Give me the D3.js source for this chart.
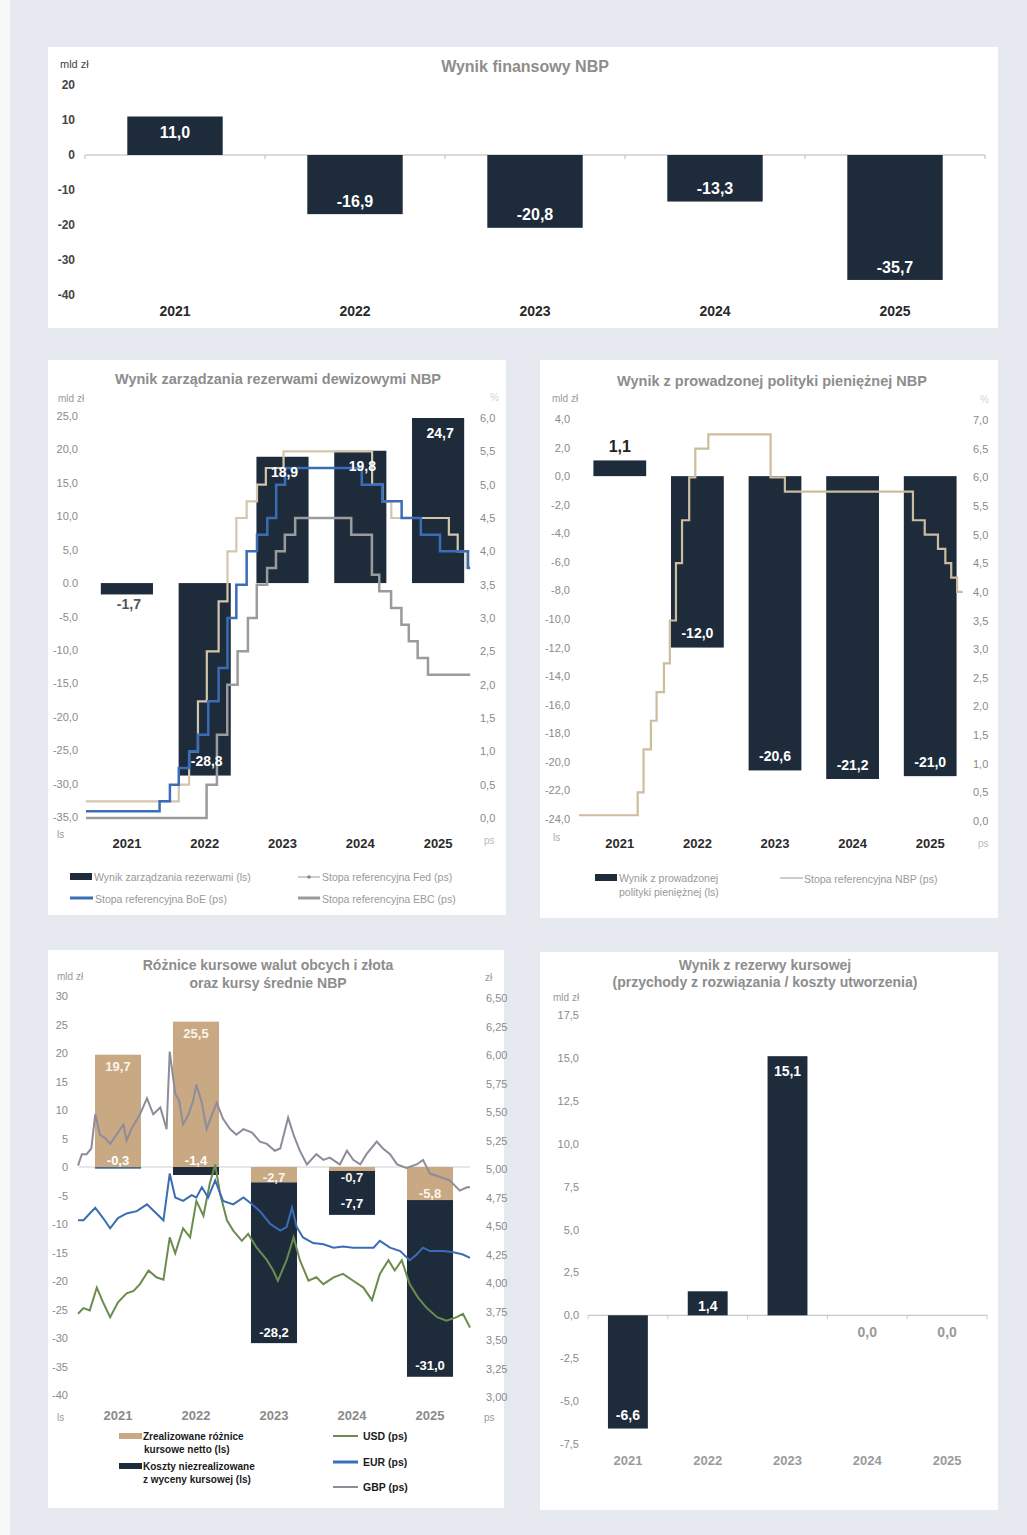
<!DOCTYPE html>
<html><head><meta charset="utf-8">
<script src="https://cdn.jsdelivr.net/npm/d3@7"></script>
<style>body{margin:0;background:#e6e9f0;} svg{display:block;font-family:"Liberation Sans",Arial,sans-serif;}</style>
</head><body><svg id="c" width="1027" height="1535"></svg>
<script>
// ---------------- DATA ----------------
const years = ["2021","2022","2023","2024","2025"];

// Panel 1
const wynikFinansowy = [11.0, -16.9, -20.8, -13.3, -35.7];
const p1Ticks = [20, 10, 0, -10, -20, -30, -40];

// Panel 2
const wynikRezerwy = [-1.7, -28.8, 18.9, 19.8, 24.7];
const p2LeftTicks = [25, 20, 15, 10, 5, 0, -5, -10, -15, -20, -25, -30, -35];
const p2RightTicks = [6.0, 5.5, 5.0, 4.5, 4.0, 3.5, 3.0, 2.5, 2.0, 1.5, 1.0, 0.5, 0.0];
const fedRate = [["2021-01-01",0.25],["2022-03-17",0.50],["2022-05-05",1.00],["2022-06-16",1.75],["2022-07-28",2.50],["2022-09-22",3.25],["2022-11-03",4.00],["2022-12-15",4.50],["2023-02-02",4.75],["2023-03-23",5.00],["2023-05-04",5.25],["2023-07-27",5.50],["2024-09-19",5.00],["2024-11-08",4.75],["2024-12-19",4.50],["2025-09-18",4.25],["2025-10-30",4.00],["2025-12-11",3.75]];
const boeRate = [["2021-01-01",0.10],["2021-12-16",0.25],["2022-02-03",0.50],["2022-03-17",0.75],["2022-05-05",1.00],["2022-06-16",1.25],["2022-08-04",1.75],["2022-09-22",2.25],["2022-11-03",3.00],["2022-12-15",3.50],["2023-02-02",4.00],["2023-03-23",4.25],["2023-05-11",4.50],["2023-06-22",5.00],["2023-08-03",5.25],["2024-08-01",5.00],["2024-11-07",4.75],["2025-02-06",4.50],["2025-05-08",4.25],["2025-08-07",4.00],["2025-12-18",3.75]];
const ebcRate = [["2021-01-01",0.00],["2022-07-27",0.50],["2022-09-14",1.25],["2022-11-02",2.00],["2022-12-21",2.50],["2023-02-08",3.00],["2023-03-22",3.50],["2023-05-10",3.75],["2023-06-21",4.00],["2023-08-02",4.25],["2023-09-20",4.50],["2024-06-12",4.25],["2024-09-18",3.65],["2024-10-23",3.40],["2024-12-18",3.15],["2025-02-05",2.90],["2025-03-12",2.65],["2025-04-23",2.40],["2025-06-11",2.15]];

// Panel 3
const wynikPolityki = [1.1, -12.0, -20.6, -21.2, -21.0];
const p3LeftTicks = [4, 2, 0, -2, -4, -6, -8, -10, -12, -14, -16, -18, -20, -22, -24];
const p3RightTicks = [7.0, 6.5, 6.0, 5.5, 5.0, 4.5, 4.0, 3.5, 3.0, 2.5, 2.0, 1.5, 1.0, 0.5, 0.0];
const nbpRate = [["2021-01-01",0.10],["2021-10-07",0.50],["2021-11-04",1.25],["2021-12-09",1.75],["2022-01-05",2.25],["2022-02-09",2.75],["2022-03-09",3.50],["2022-04-07",4.50],["2022-05-06",5.25],["2022-06-09",6.00],["2022-07-08",6.50],["2022-09-08",6.75],["2023-07-01",6.00],["2023-09-07",5.75],["2025-05-08",5.25],["2025-07-03",5.00],["2025-09-04",4.75],["2025-10-09",4.50],["2025-11-06",4.25],["2025-12-04",4.00]];

// Panel 4
const roznicZrealizowane = [19.7, 25.5, -2.7, -0.7, -5.8];
const kosztyNiezrealizowane = [-0.3, -1.4, -28.2, -7.7, -31.0];
const p4LeftTicks = [30, 25, 20, 15, 10, 5, 0, -5, -10, -15, -20, -25, -30, -35, -40];
const p4RightTicks = [6.50, 6.25, 6.00, 5.75, 5.50, 5.25, 5.00, 4.75, 4.50, 4.25, 4.00, 3.75, 3.50, 3.25, 3.00];
const gbpPln = [[2021.00,5.03],[2021.05,5.13],[2021.11,5.13],[2021.17,5.18],[2021.22,5.48],[2021.28,5.30],[2021.35,5.27],[2021.41,5.22],[2021.49,5.30],[2021.58,5.39],[2021.62,5.25],[2021.68,5.35],[2021.79,5.48],[2021.88,5.62],[2021.96,5.48],[2022.05,5.54],[2022.13,5.35],[2022.17,6.03],[2022.24,5.66],[2022.29,5.60],[2022.34,5.39],[2022.41,5.48],[2022.47,5.60],[2022.51,5.74],[2022.58,5.58],[2022.64,5.35],[2022.71,5.48],[2022.77,5.58],[2022.85,5.44],[2022.94,5.35],[2023.02,5.30],[2023.11,5.35],[2023.22,5.32],[2023.32,5.24],[2023.41,5.22],[2023.51,5.16],[2023.58,5.18],[2023.68,5.45],[2023.75,5.30],[2023.83,5.16],[2023.92,5.04],[2024.04,5.13],[2024.13,5.08],[2024.21,5.10],[2024.34,5.04],[2024.43,5.16],[2024.51,5.08],[2024.60,5.04],[2024.68,5.13],[2024.81,5.24],[2024.89,5.18],[2024.98,5.13],[2025.07,5.04],[2025.19,5.01],[2025.32,5.04],[2025.40,5.08],[2025.49,4.96],[2025.62,4.93],[2025.74,4.90],[2025.87,4.81],[2025.96,4.84],[2026.00,4.84]];
const eurPln = [[2021.00,4.55],[2021.07,4.55],[2021.15,4.61],[2021.22,4.66],[2021.32,4.57],[2021.41,4.48],[2021.51,4.57],[2021.62,4.61],[2021.75,4.63],[2021.88,4.69],[2022.00,4.61],[2022.09,4.55],[2022.17,4.96],[2022.24,4.75],[2022.34,4.72],[2022.45,4.77],[2022.51,4.75],[2022.58,4.84],[2022.66,4.75],[2022.75,4.90],[2022.85,4.72],[2022.98,4.69],[2023.11,4.75],[2023.22,4.69],[2023.32,4.63],[2023.45,4.52],[2023.58,4.46],[2023.66,4.49],[2023.73,4.66],[2023.79,4.49],[2023.87,4.40],[2024.00,4.35],[2024.13,4.34],[2024.26,4.31],[2024.38,4.32],[2024.51,4.31],[2024.64,4.31],[2024.77,4.31],[2024.85,4.37],[2024.98,4.31],[2025.11,4.28],[2025.23,4.20],[2025.32,4.25],[2025.40,4.31],[2025.49,4.28],[2025.66,4.28],[2025.79,4.27],[2025.91,4.25],[2026.00,4.22]];
const usdPln = [[2021.00,3.73],[2021.07,3.78],[2021.15,3.76],[2021.24,3.96],[2021.32,3.83],[2021.41,3.70],[2021.51,3.83],[2021.62,3.91],[2021.71,3.93],[2021.79,3.99],[2021.90,4.11],[2022.00,4.05],[2022.09,4.03],[2022.17,4.40],[2022.24,4.26],[2022.34,4.48],[2022.43,4.40],[2022.51,4.72],[2022.60,4.59],[2022.68,4.87],[2022.75,5.04],[2022.81,4.79],[2022.90,4.55],[2022.98,4.46],[2023.09,4.37],[2023.17,4.43],[2023.28,4.31],[2023.41,4.20],[2023.49,4.11],[2023.55,4.02],[2023.66,4.20],[2023.75,4.40],[2023.83,4.20],[2023.94,4.02],[2024.04,4.05],[2024.13,3.99],[2024.26,4.05],[2024.38,4.08],[2024.51,4.02],[2024.64,3.96],[2024.75,3.85],[2024.85,4.08],[2024.96,4.20],[2025.04,4.11],[2025.13,4.20],[2025.23,3.99],[2025.34,3.87],[2025.45,3.78],[2025.58,3.70],[2025.70,3.67],[2025.83,3.70],[2025.91,3.73],[2026.00,3.61]];

// Panel 5
const wynikRezerwyKursowej = [-6.6, 1.4, 15.1, 0.0, 0.0];
const p5Ticks = [17.5, 15.0, 12.5, 10.0, 7.5, 5.0, 2.5, 0.0, -2.5, -5.0, -7.5];

// ---------------- HELPERS ----------------
const DARK = "#1d2b3b", TAN = "#c8a983", TITLE = "#8d8d8d", TICK = "#8a8a8a";
const BLUE = "#3a6db5", ECBG = "#9b9b9b", FEDC = "#d3c6ac", NBPC = "#cdbd9f";
const GBPC = "#8e8c99", USDC = "#6b8c4e";
const fmt = d => v => (v < 0 ? "-" : "") + Math.abs(v).toFixed(d).replace(".", ",");
const fmt1 = fmt(1);

const svg = d3.select("#c");
svg.append("rect").attr("width", 1027).attr("height", 1535).attr("fill", "#e6e9f0");
svg.append("rect").attr("x", 0).attr("y", 0).attr("width", 10).attr("height", 1535).attr("fill", "#f7f8fa");

const panelBoxes = [[48,47,950,281],[48,360,458,555],[540,360,458,558],[48,950,456,558],[540,952,458,558]];
svg.selectAll("rect.panel").data(panelBoxes).enter().append("rect").attr("class","panel")
  .attr("x", d=>d[0]).attr("y", d=>d[1]).attr("width", d=>d[2]).attr("height", d=>d[3]).attr("fill", "#fff");

function txt(g, x, y, s, o = {}) {
  return g.append("text").attr("x", x).attr("y", y).attr("dy", "0.35em")
    .attr("text-anchor", o.anchor || "start")
    .attr("font-size", o.size || 10).attr("font-weight", o.bold ? "bold" : "normal")
    .attr("fill", o.fill || TICK).attr("font-family", o.family || null).text(s);
}

function yAxis(g, scale, ticks, format, x, side, o = {}) {
  const ax = (side === "left" ? d3.axisLeft(scale) : d3.axisRight(scale))
    .tickValues(ticks).tickFormat(format).tickSize(0).tickPadding(0);
  const a = g.append("g").attr("transform", `translate(${x},0)`).call(ax);
  a.select(".domain").remove();
  a.selectAll("text").attr("font-size", o.size || 11).attr("fill", o.fill || TICK)
    .attr("font-weight", o.bold ? "bold" : "normal").attr("font-family", o.family || "Liberation Sans, Arial, sans-serif");
  return a;
}
function xAxis(g, scale, y, o = {}) {
  const a = g.append("g").attr("transform", `translate(0,${y})`)
    .call(d3.axisBottom(scale).tickSize(0).tickPadding(0));
  a.select(".domain").remove();
  a.selectAll("text").attr("dy", "0.35em").attr("font-size", o.size || 13).attr("font-weight", "bold")
    .attr("fill", o.fill || "#2a2a2a").attr("font-family", o.family || "Liberation Sans, Arial, sans-serif");
  return a;
}

// ---------------- PANEL 1 ----------------
{
  const g = svg.append("g");
  const NARROW = "Liberation Sans Narrow, Arial Narrow, Liberation Sans, sans-serif";
  const x = d3.scaleBand().domain(years).range([85, 985]).paddingInner(0.47).paddingOuter(0.235);
  const y = d3.scaleLinear().domain([-40, 20]).range([295, 85]);
  txt(g, 525, 66, "Wynik finansowy NBP", {anchor: "middle", size: 16, bold: true, fill: TITLE, family: NARROW});
  txt(g, 60, 64, "mld zł", {size: 11, fill: "#444", family: NARROW});
  yAxis(g, y, p1Ticks, d => (d < 0 ? "-" : "") + Math.abs(d), 75, "left", {size: 12, bold: true, fill: "#444", family: NARROW});
  g.append("line").attr("x1", 85).attr("x2", 985).attr("y1", y(0)).attr("y2", y(0)).attr("stroke", "#b8b8b8").attr("stroke-width", 1.2);
  const bounds = years.map(d => x(d) - x.step() * x.paddingInner() / 2).concat([985]);
  g.selectAll("line.tk").data(bounds).enter().append("line").attr("x1", d => d).attr("x2", d => d)
    .attr("y1", y(0)).attr("y2", y(0) + 4).attr("stroke", "#bbb");
  g.selectAll("rect.bar").data(wynikFinansowy).enter().append("rect")
    .attr("x", (d, i) => x(years[i])).attr("width", x.bandwidth())
    .attr("y", d => y(Math.max(0, d))).attr("height", d => Math.abs(y(d) - y(0))).attr("fill", DARK);
  g.selectAll("text.lab").data(wynikFinansowy).enter().append("text")
    .attr("x", (d, i) => x(years[i]) + x.bandwidth() / 2)
    .attr("y", d => d >= 0 ? y(d) + 16 : y(d) - 13).attr("dy", "0.35em")
    .attr("text-anchor", "middle").attr("fill", "#fff").attr("font-weight", "bold").attr("font-size", 16)
    .attr("font-family", NARROW).text(fmt1);
  xAxis(g, x, 311, {size: 14, fill: "#2a2a2a", family: NARROW});
}

// ---------------- PANEL 2 ----------------
{
  const g = svg.append("g");
  const x = d3.scaleBand().domain(years).range([88, 477]).paddingInner(0.33).paddingOuter(0.165);
  const yL = d3.scaleLinear().domain([-35, 25]).range([817, 416]);
  const yR = d3.scaleLinear().domain([0, 6]).range([818, 418]);
  const t = d3.scaleTime().domain([new Date("2021-01-01"), new Date("2026-01-01")]).range([86, 471]);
  const end = new Date("2025-12-28");
  txt(g, 278, 379, "Wynik zarządzania rezerwami dewizowymi NBP", {anchor: "middle", size: 14.5, bold: true, fill: TITLE});
  txt(g, 58, 398, "mld zł", {size: 10, fill: "#999"});
  txt(g, 490, 397, "%", {size: 10, fill: "#d5d5d5"});
  txt(g, 57, 834, "ls", {size: 10, fill: "#999"});
  txt(g, 484, 840, "ps", {size: 10, fill: "#bbb"});
  yAxis(g, yL, p2LeftTicks, v => v === 0 ? "0.0" : fmt1(v), 78, "left");
  yAxis(g, yR, p2RightTicks, fmt1, 480, "right");
  g.selectAll("rect.bar").data(wynikRezerwy).enter().append("rect")
    .attr("x", (d, i) => x(years[i])).attr("width", x.bandwidth())
    .attr("y", d => yL(Math.max(0, d))).attr("height", d => Math.abs(yL(d) - yL(0))).attr("fill", DARK);
  const step = arr => arr.map(d => [new Date(d[0]), d[1]]).concat([[end, arr[arr.length - 1][1]]]);
  const line = d3.line().x(d => t(d[0])).y(d => yR(d[1])).curve(d3.curveStepAfter);
  g.append("path").attr("d", line(step(ebcRate))).attr("fill", "none").attr("stroke", ECBG).attr("stroke-width", 2.5);
  g.append("path").attr("d", line(step(fedRate))).attr("fill", "none").attr("stroke", FEDC).attr("stroke-width", 2.2);
  g.append("path").attr("d", line(step(boeRate))).attr("fill", "none").attr("stroke", BLUE).attr("stroke-width", 2.5);
  g.selectAll("text.lab").data(wynikRezerwy).enter().append("text")
    .attr("x", (d, i) => x(years[i]) + x.bandwidth() / 2 + 2)
    .attr("y", d => d >= 0 ? yL(d) + 15 : (Math.abs(yL(d) - yL(0)) < 20 ? yL(d) + 10 : yL(d) - 14)).attr("dy", "0.35em")
    .attr("text-anchor", "middle").attr("font-weight", "bold").attr("font-size", 14)
    .attr("fill", d => Math.abs(yL(d) - yL(0)) < 20 ? "#555" : "#fff").text(fmt1);
  xAxis(g, x, 843, {size: 13, fill: "#2a2a2a"});
  // legend
  g.append("rect").attr("x", 70).attr("y", 873).attr("width", 22).attr("height", 7).attr("fill", DARK);
  txt(g, 94, 877, "Wynik zarządzania rezerwami (ls)", {size: 10.5, fill: "#999"});
  g.append("line").attr("x1", 298).attr("x2", 320).attr("y1", 877).attr("y2", 877).attr("stroke", "#bbb").attr("stroke-width", 1.5);
  g.append("circle").attr("cx", 309).attr("cy", 877).attr("r", 1.8).attr("fill", "#888");
  txt(g, 322, 877, "Stopa referencyjna Fed (ps)", {size: 10.5, fill: "#999"});
  g.append("line").attr("x1", 70).attr("x2", 93).attr("y1", 898).attr("y2", 898).attr("stroke", BLUE).attr("stroke-width", 3);
  txt(g, 95, 899, "Stopa referencyjna BoE (ps)", {size: 10.5, fill: "#999"});
  g.append("line").attr("x1", 298).attr("x2", 320).attr("y1", 898).attr("y2", 898).attr("stroke", ECBG).attr("stroke-width", 3);
  txt(g, 322, 899, "Stopa referencyjna EBC (ps)", {size: 10.5, fill: "#999"});
}

// ---------------- PANEL 3 ----------------
{
  const g = svg.append("g");
  const x = d3.scaleBand().domain(years).range([581, 969]).paddingInner(0.32).paddingOuter(0.16);
  const yL = d3.scaleLinear().domain([-24, 4]).range([819, 419]);
  const yR = d3.scaleLinear().domain([0, 7]).range([821, 420]);
  const t = d3.scaleTime().domain([new Date("2021-01-01"), new Date("2026-01-01")]).range([579, 963]);
  const end = new Date("2025-12-31");
  txt(g, 772, 381, "Wynik z prowadzonej polityki pieniężnej NBP", {anchor: "middle", size: 14.5, bold: true, fill: TITLE});
  txt(g, 552, 398, "mld zł", {size: 10, fill: "#999"});
  txt(g, 980, 399, "%", {size: 10, fill: "#d5d5d5"});
  txt(g, 553, 837, "ls", {size: 10, fill: "#aaa"});
  txt(g, 978, 843, "ps", {size: 10, fill: "#bbb"});
  yAxis(g, yL, p3LeftTicks, fmt1, 570, "left");
  yAxis(g, yR, p3RightTicks, fmt1, 973, "right");
  g.selectAll("rect.bar").data(wynikPolityki).enter().append("rect")
    .attr("x", (d, i) => x(years[i])).attr("width", x.bandwidth())
    .attr("y", d => yL(Math.max(0, d))).attr("height", d => Math.abs(yL(d) - yL(0))).attr("fill", DARK);
  const step = arr => arr.map(d => [new Date(d[0]), d[1]]).concat([[end, arr[arr.length - 1][1]]]);
  const line = d3.line().x(d => t(d[0])).y(d => yR(d[1])).curve(d3.curveStepAfter);
  g.append("path").attr("d", line(step(nbpRate))).attr("fill", "none").attr("stroke", NBPC).attr("stroke-width", 2.2);
  g.selectAll("text.lab").data(wynikPolityki).enter().append("text")
    .attr("x", (d, i) => x(years[i]) + x.bandwidth() / 2)
    .attr("y", d => d >= 0 ? yL(d) - 14 : yL(d) - 14).attr("dy", "0.35em")
    .attr("text-anchor", "middle").attr("font-weight", "bold")
    .attr("font-size", d => d >= 0 ? 16 : 14).attr("fill", d => d >= 0 ? "#222" : "#fff").text(fmt1);
  xAxis(g, x, 843, {size: 13, fill: "#2a2a2a"});
  g.append("rect").attr("x", 595).attr("y", 874).attr("width", 22).attr("height", 7).attr("fill", DARK);
  txt(g, 619, 878, "Wynik z prowadzonej", {size: 10.5, fill: "#999"});
  txt(g, 619, 892, "polityki pieniężnej (ls)", {size: 10.5, fill: "#999"});
  g.append("line").attr("x1", 780).attr("x2", 803).attr("y1", 878).attr("y2", 878).attr("stroke", "#bbb").attr("stroke-width", 1.5);
  txt(g, 804, 879, "Stopa referencyjna NBP (ps)", {size: 10.5, fill: "#999"});
}

// ---------------- PANEL 4 ----------------
{
  const g = svg.append("g");
  const x = d3.scaleBand().domain(years).range([79, 469]).paddingInner(0.41).paddingOuter(0.205);
  const yL = d3.scaleLinear().domain([-40, 30]).range([1395, 996]);
  const yR = d3.scaleLinear().domain([3, 6.5]).range([1397, 998]);
  const t = d3.scaleLinear().domain([2021, 2026]).range([78, 470]);
  txt(g, 268, 965, "Różnice kursowe walut obcych i złota", {anchor: "middle", size: 14, bold: true, fill: TITLE});
  txt(g, 268, 983, "oraz kursy średnie NBP", {anchor: "middle", size: 14, bold: true, fill: TITLE});
  txt(g, 57, 976, "mld zł", {size: 10, fill: "#999"});
  txt(g, 485, 977, "zł", {size: 10, fill: "#999"});
  txt(g, 57, 1417, "ls", {size: 10, fill: "#999"});
  txt(g, 484, 1417, "ps", {size: 10, fill: "#999"});
  yAxis(g, yL, p4LeftTicks, v => (v < 0 ? "-" : "") + Math.abs(v), 68, "left");
  yAxis(g, yR, p4RightTicks, fmt(2), 486, "right");
  g.append("line").attr("x1", 79).attr("x2", 470).attr("y1", yL(0)).attr("y2", yL(0)).attr("stroke", "#cfcfcf").attr("stroke-width", 1.2);
  g.selectAll("rect.tan").data(roznicZrealizowane).enter().append("rect")
    .attr("x", (d, i) => x(years[i])).attr("width", x.bandwidth())
    .attr("y", d => yL(Math.max(0, d))).attr("height", d => Math.abs(yL(d) - yL(0))).attr("fill", TAN);
  const base = i => Math.min(0, roznicZrealizowane[i]);
  g.selectAll("rect.dark").data(kosztyNiezrealizowane).enter().append("rect")
    .attr("x", (d, i) => x(years[i])).attr("width", x.bandwidth())
    .attr("y", (d, i) => yL(base(i))).attr("height", (d, i) => Math.abs(yL(base(i) + d) - yL(base(i))))
    .attr("fill", (d, i) => Math.abs(d) < 1 ? "#4a6a8a" : DARK);
  const line = d3.line().x(d => t(d[0])).y(d => yR(d[1]));
  g.append("path").attr("d", line(gbpPln)).attr("fill", "none").attr("stroke", GBPC).attr("stroke-width", 2);
  g.append("path").attr("d", line(usdPln)).attr("fill", "none").attr("stroke", USDC).attr("stroke-width", 2);
  g.append("path").attr("d", line(eurPln)).attr("fill", "none").attr("stroke", BLUE).attr("stroke-width", 2);
  // labels
  g.selectAll("text.tl").data(roznicZrealizowane).enter().append("text")
    .attr("x", (d, i) => x(years[i]) + x.bandwidth() / 2)
    .attr("y", d => d >= 0 ? yL(d) + 12 : Math.max(yL(d) - 7, yL(0) + 10)).attr("dy", "0.35em")
    .attr("text-anchor", "middle").attr("font-weight", "bold").attr("font-size", 13).attr("fill", "#fbf3ea").text(fmt1);
  g.selectAll("text.dl").data(kosztyNiezrealizowane).enter().append("text")
    .attr("x", (d, i) => x(years[i]) + x.bandwidth() / 2)
    .attr("y", (d, i) => Math.abs(d) < 3 ? yL(0) - 7 : yL(base(i) + d) - 11).attr("dy", "0.35em")
    .attr("text-anchor", "middle").attr("font-weight", "bold").attr("font-size", 13).attr("fill", "#fff").text(fmt1);
  xAxis(g, x, 1415, {size: 13, fill: "#8a8a8a"});
  // legend
  g.append("rect").attr("x", 119).attr("y", 1433).attr("width", 23).attr("height", 6).attr("fill", TAN);
  txt(g, 143, 1436, "Zrealizowane różnice", {size: 10, bold: true, fill: "#1a1a1a"});
  txt(g, 144, 1449, "kursowe netto (ls)", {size: 10, bold: true, fill: "#1a1a1a"});
  g.append("rect").attr("x", 119).attr("y", 1463).attr("width", 23).attr("height", 6).attr("fill", DARK);
  txt(g, 143, 1466, "Koszty niezrealizowane", {size: 10, bold: true, fill: "#1a1a1a"});
  txt(g, 143, 1479, "z wyceny kursowej (ls)", {size: 10, bold: true, fill: "#1a1a1a"});
  const leg = [["USD (ps)", USDC, 1436], ["EUR (ps)", BLUE, 1462], ["GBP (ps)", GBPC, 1487]];
  leg.forEach(l => {
    g.append("line").attr("x1", 333).attr("x2", 358).attr("y1", l[2]).attr("y2", l[2]).attr("stroke", l[1]).attr("stroke-width", l[1] === BLUE ? 3 : 2);
    txt(g, 363, l[2], l[0], {size: 10.5, bold: true, fill: "#1a1a1a"});
  });
}

// ---------------- PANEL 5 ----------------
{
  const g = svg.append("g");
  const x = d3.scaleBand().domain(years).range([588, 987]).paddingInner(0.5).paddingOuter(0.25);
  const y = d3.scaleLinear().domain([-7.5, 17.5]).range([1444, 1015]);
  txt(g, 765, 965, "Wynik z rezerwy kursowej", {anchor: "middle", size: 14, bold: true, fill: TITLE});
  txt(g, 765, 982, "(przychody z rozwiązania / koszty utworzenia)", {anchor: "middle", size: 14, bold: true, fill: TITLE});
  txt(g, 553, 997, "mld zł", {size: 10, fill: "#999"});
  yAxis(g, y, p5Ticks, fmt1, 579, "left");
  g.append("line").attr("x1", 588).attr("x2", 987).attr("y1", y(0)).attr("y2", y(0)).attr("stroke", "#c8c8c8").attr("stroke-width", 1.2);
  const bounds = years.map(d => x(d) - x.step() * x.paddingInner() / 2).concat([987]);
  g.selectAll("line.tk").data(bounds).enter().append("line").attr("x1", d => d).attr("x2", d => d)
    .attr("y1", y(0)).attr("y2", y(0) + 4).attr("stroke", "#ccc");
  g.selectAll("rect.bar").data(wynikRezerwyKursowej).enter().append("rect")
    .attr("x", (d, i) => x(years[i])).attr("width", x.bandwidth())
    .attr("y", d => y(Math.max(0, d))).attr("height", d => Math.abs(y(d) - y(0))).attr("fill", DARK);
  g.selectAll("text.lab").data(wynikRezerwyKursowej).enter().append("text")
    .attr("x", (d, i) => x(years[i]) + x.bandwidth() / 2)
    .attr("y", d => d > 0 ? y(d) + 15 : d < 0 ? y(d) - 13 : y(0) + 17).attr("dy", "0.35em")
    .attr("text-anchor", "middle").attr("font-weight", "bold").attr("font-size", 14)
    .attr("fill", d => d === 0 ? "#9a9a9a" : "#fff").text(fmt1);
  xAxis(g, x, 1460, {size: 13, fill: "#9a9a9a"});
}
</script></body></html>
